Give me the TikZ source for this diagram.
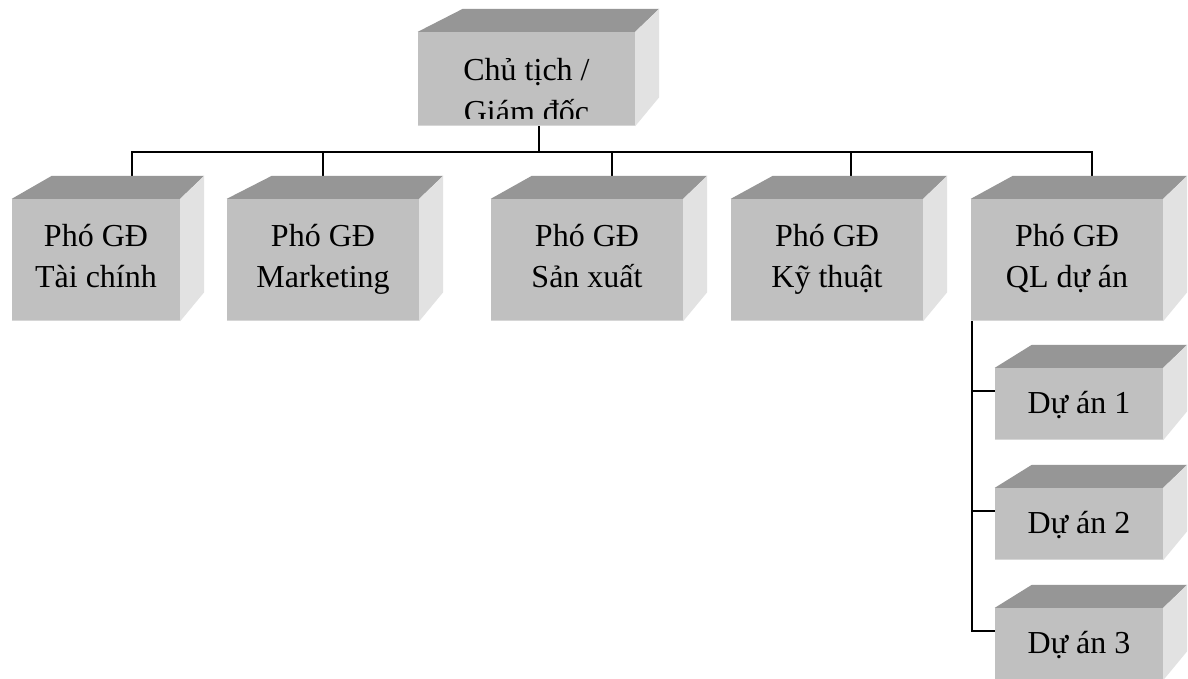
\documentclass[tikz,border=0pt]{standalone}
\usepackage{fontspec}
\setmainfont{Liberation Serif}
\definecolor{frontgray}{HTML}{C0C0C0}
\definecolor{topgray}{HTML}{969696}
\definecolor{sidegray}{HTML}{E2E2E2}
\definecolor{bevelgray}{HTML}{D6D6D6}
\newcommand\boxfont{\fontsize{32}{41}\selectfont}
\tikzset{
  front/.style={fill=frontgray, inner sep=0pt, align=center, font=\boxfont},
  twoline/.style={text height=62pt, text depth=8pt},
  oneline/.style={text height=24pt, text depth=6pt},
  topface/.style={fill=topgray},
  sideface/.style={fill=sidegray},
  bevel/.style={draw=bevelgray, line width=1.5pt},
  conn/.style={draw=black, line width=1.8pt},
  lbl/.style={inner sep=0pt, anchor=base, font=\boxfont}
}
% #1 name, #2 #3 centre of the front face, #4 #5 width and height,
% #6 horizontal offset of the back-left corner of the top face, #7 text
\newcommand\cubebox[8][]{%
  \node[front, #1, minimum width=#5pt, minimum height=#6pt] (#2) at (#3,#4) {#8};
  \fill[topface] (#2.north west) -- ++(#7,-23) -- ([shift={(24,-23)}]#2.north east)
    -- (#2.north east) -- cycle;
  \fill[sideface] (#2.north east) -- ++(24,-23) -- ([shift={(24,-29)}]#2.south east)
    -- (#2.south east) -- cycle;
  \draw[bevel] ([yshift=0.75pt]#2.south west) -- ([yshift=0.75pt]#2.south east);
}
\begin{document}
\begin{tikzpicture}[x=1pt, y=-1pt]
\useasboundingbox[fill=white] (0,0) rectangle (1188,678);

% connectors (drawn first, the boxes cover their ends)
\coordinate (bus) at (539,152);
\coordinate (tcdrop) at (132,199);
\coordinate (mkdrop) at (323,199);
\coordinate (sxdrop) at (612,199);
\coordinate (ktdrop) at (851,199);
\coordinate (qldrop) at (1092,199);
\coordinate (ceodrop) at (539,120);
\draw[conn] (ceodrop) -- (bus);
\draw[conn] (tcdrop) |- (bus) -| (qldrop);
\draw[conn] (mkdrop) -- (mkdrop |- bus);
\draw[conn] (sxdrop) -- (sxdrop |- bus);
\draw[conn] (ktdrop) -- (ktdrop |- bus);

% top level
\cubebox{ceo}{526.5}{79}{217}{94}{45}{}
\begin{scope}
  \clip (418,32) rectangle (635,118);
  \node[lbl] (ceo1) at (526.5,80) {Chủ tịch /};
  \node[lbl] (ceo2) at (526.5,122) {Giám đốc};
\end{scope}

% deputies
\cubebox[twoline]{tc}{96}{260}{168}{122}{40}{Phó GĐ\\Tài chính}
\cubebox[twoline]{mk}{323}{260}{192}{122}{45}{Phó GĐ\\Marketing}
\cubebox[twoline]{sx}{587}{260}{192}{122}{41}{Phó GĐ\\Sản xuất}
\cubebox[twoline]{kt}{827}{260}{192}{122}{42}{Phó GĐ\\Kỹ thuật}
\cubebox[twoline]{ql}{1067}{260}{192}{122}{42}{Phó GĐ\\QL dự án}

% projects
\cubebox[oneline]{da1}{1079}{404}{168}{72}{37}{Dự án 1}
\cubebox[oneline]{da2}{1079}{524}{168}{72}{37}{Dự án 2}
\cubebox[oneline]{da3}{1079}{644}{168}{72}{37}{Dự án 3}

\coordinate (qlleft) at ([xshift=1pt]ql.south west);
\draw[conn] (qlleft) |- ([yshift=13pt]da3.west);
\draw[conn] ([yshift=13pt]da1.west) -- ([yshift=13pt]da1.west -| qlleft);
\draw[conn] ([yshift=13pt]da2.west) -- ([yshift=13pt]da2.west -| qlleft);
\end{tikzpicture}
\end{document}
